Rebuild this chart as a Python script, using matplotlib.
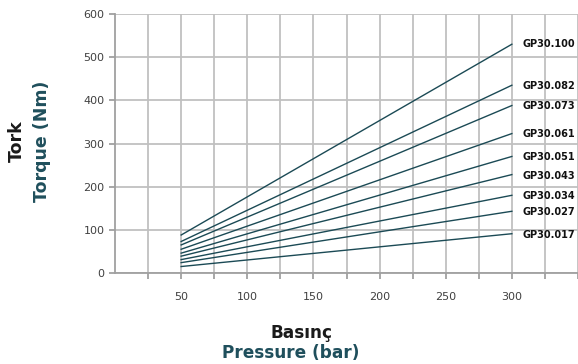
import matplotlib
matplotlib.use("Agg")
import matplotlib.pyplot as plt

models = ["GP30.100", "GP30.082", "GP30.073", "GP30.061", "GP30.051",
          "GP30.043", "GP30.034", "GP30.027", "GP30.017"]
pressure = [50, 300]
torque_50 = [88, 73, 65, 55, 46, 39, 31, 24, 15]
torque_300 = [530, 435, 388, 323, 270, 228, 180, 143, 91]
label_y = [530, 433, 387, 322, 269, 225, 179, 142, 87]
x_ticks = [50, 100, 150, 200, 250, 300]

line_color = "#1b4a55"
grid_color = "#c0c0c0"
teal = "#1f4f5c"

fig = plt.figure(figsize=(5.78, 3.64), dpi=100)
ax = fig.add_axes([0.199, 0.25, 0.801, 0.7115])

for name, t0, t1, ly in zip(models, torque_50, torque_300, label_y):
    ax.plot(pressure, [t0, t1], color=line_color, lw=1.0, zorder=3)
    ax.text(308, ly, name, fontsize=7.0, fontweight="bold", color="#111111",
            va="center", ha="left", clip_on=False)

ax.set_xlim(0, 345.5)
ax.set_ylim(0, 600)
minor = list(range(25, 351, 25))
ax.set_xticks(minor)
ax.set_xticklabels([str(x) if x in x_ticks else "" for x in minor])
ax.set_yticks(range(0, 601, 100))
ax.grid(True, color=grid_color, lw=1.3, zorder=0)
for s in ["top", "right"]:
    ax.spines[s].set_visible(False)
for s in ["left", "bottom"]:
    ax.spines[s].set_color("#a0a0a0")
    ax.spines[s].set_linewidth(1.3)
ax.tick_params(axis="both", colors="#a0a0a0", labelcolor="#404040",
               labelsize=8, length=4, width=1.3)
ax.tick_params(axis="x", pad=10)

fig.text(16.5 / 578, 1 - 141 / 364, "Tork", rotation=90, fontsize=12.5,
         fontweight="bold", color="#1a1a1a", ha="center", va="center")
fig.text(42 / 578, 1 - 141 / 364, "Torque (Nm)", rotation=90, fontsize=12.5,
         fontweight="bold", color=teal, ha="center", va="center")
fig.text(301 / 578, 1 - 333 / 364, "Basınç", fontsize=12.2, fontweight="bold",
         color="#1a1a1a", ha="center", va="center")
fig.text(291 / 578, 1 - 353 / 364, "Pressure (bar)", fontsize=12.2,
         fontweight="bold", color=teal, ha="center", va="center")

fig.savefig("out.png", dpi=100)
